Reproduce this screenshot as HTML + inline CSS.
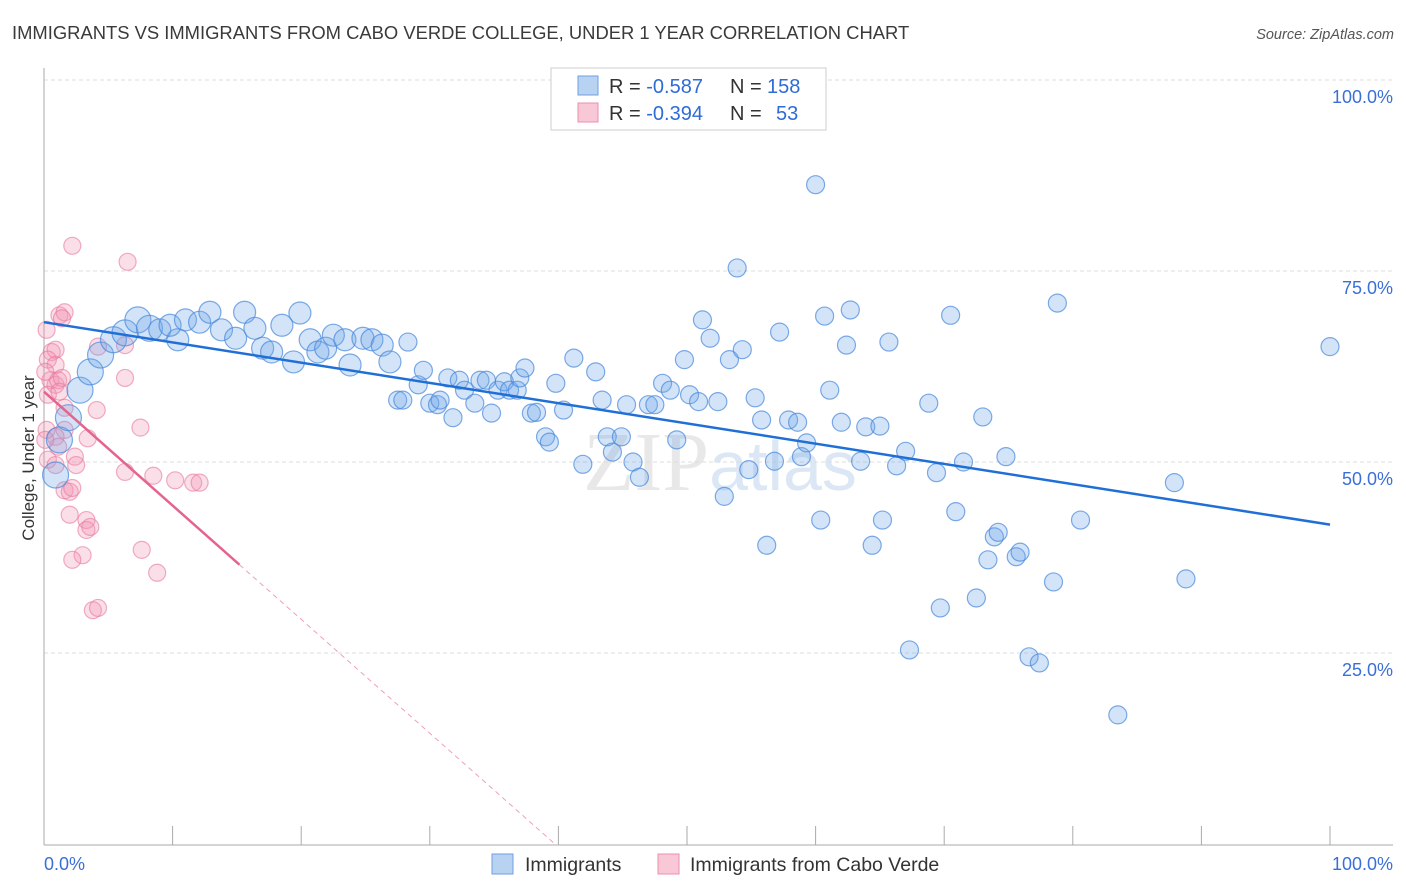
<!DOCTYPE html>
<html><head><meta charset="utf-8"><style>
body{margin:0;background:#fff;font-family:"Liberation Sans",sans-serif;}
svg{display:block}
</style></head><body>
<svg id="chart" width="1406" height="892" xmlns="http://www.w3.org/2000/svg">
<text x="12" y="39" font-size="18.4" fill="#3a3a3a">IMMIGRANTS VS IMMIGRANTS FROM CABO VERDE COLLEGE, UNDER 1 YEAR CORRELATION CHART</text>
<text x="1394" y="39" font-size="14.5" fill="#555" text-anchor="end" font-style="italic">Source: ZipAtlas.com</text>
<text x="720" y="490" font-size="84" fill="#e8e8e8" text-anchor="middle" font-family="Liberation Serif, serif">ZIP<tspan fill="#dbe7f5" font-family="Liberation Sans, sans-serif" font-size="70">atlas</tspan></text>
<g id="grid"></g><g id="axes"></g><g id="pts"></g><g id="lines"></g>
<text transform="translate(34,458) rotate(-90)" font-size="17" fill="#333" text-anchor="middle">College, Under 1 year</text>
<g>
<rect x="551" y="68" width="275" height="62" fill="#fff" stroke="#ccc"/>
<rect x="578" y="76" width="20" height="19" fill="#b8d2f2" stroke="#6f9fe0"/>
<rect x="578" y="103" width="20" height="19" fill="#f9c8d6" stroke="#ec8fad"/>
<text x="609" y="93" font-size="20" fill="#333">R = <tspan fill="#2f6bd6">-0.587</tspan><tspan x="730">N = </tspan><tspan fill="#2f6bd6" x="767">158</tspan></text>
<text x="609" y="120" font-size="20" fill="#333">R = <tspan fill="#2f6bd6">-0.394</tspan><tspan x="730">N = </tspan><tspan fill="#2f6bd6" x="776">53</tspan></text>
</g>
<g>
<rect x="492" y="854" width="21" height="20" fill="#b8d2f2" stroke="#6f9fe0"/>
<text x="525" y="871" font-size="19.5" fill="#333">Immigrants</text>
<rect x="658" y="854" width="21" height="20" fill="#f9c8d6" stroke="#ec8fad"/>
<text x="690" y="871" font-size="19.5" fill="#333">Immigrants from Cabo Verde</text>
</g>
</svg>
<script>
const blueX=[0.9,1.2,1.9,2.8,3.6,4.4,5.4,6.3,7.3,8.2,9.0,10.4,9.8,11.0,12.1,12.9,13.8,14.9,15.6,16.4,17.0,17.7,18.5,19.4,19.9,20.7,21.3,21.9,22.5,23.4,23.8,24.8,25.5,26.3,26.9,27.5,27.9,28.3,29.1,29.5,30.0,30.6,30.8,31.4,31.8,32.3,32.7,33.5,33.9,34.4,34.8,35.3,35.8,36.2,36.8,37.0,37.4,37.9,38.3,39.0,39.3,39.8,40.4,41.2,41.9,42.9,43.4,43.8,44.2,44.9,45.3,45.8,46.3,47.0,47.5,48.1,48.7,49.2,49.8,50.2,50.9,51.2,51.8,52.4,52.9,53.3,53.9,54.3,54.8,55.3,55.8,56.2,56.8,57.2,57.9,58.6,58.9,59.3,60.0,60.4,60.7,61.1,62.0,62.4,62.7,63.5,63.9,64.4,65.0,65.2,65.7,66.3,67.0,67.3,68.8,69.4,69.7,70.5,70.9,71.5,72.5,73.0,73.4,73.9,74.2,74.8,75.6,75.9,76.6,77.4,78.5,78.8,80.6,83.5,87.9,88.8,100];
const blueY=[48.3,52.9,55.8,59.4,61.8,64.0,66.0,66.9,68.6,67.5,67.3,66.0,67.9,68.6,68.3,69.6,67.3,66.2,69.6,67.5,64.9,64.4,67.9,63.1,69.5,66.0,64.4,64.9,66.6,66.0,62.7,66.2,66.0,65.3,63.1,58.1,58.1,65.7,60.1,62.0,57.7,57.5,58.1,61.0,55.8,60.7,59.4,57.7,60.7,60.7,56.4,59.4,60.5,59.4,59.4,61.0,62.3,56.4,56.5,53.3,52.6,60.3,56.8,63.6,49.7,61.8,58.1,53.3,51.3,53.3,57.5,50.0,48.0,57.5,57.5,60.3,59.4,52.9,63.4,58.8,57.9,68.6,66.2,57.9,45.5,63.4,75.4,64.7,49.0,58.4,55.5,39.1,50.1,67.0,55.5,55.2,50.7,52.5,86.3,42.4,69.1,59.4,55.2,65.3,69.9,50.1,54.6,39.1,54.7,42.4,65.7,49.5,51.4,25.4,57.7,48.6,30.9,69.2,43.5,50.0,32.2,55.9,37.2,40.2,40.8,50.7,37.6,38.2,24.5,23.7,34.3,70.8,42.4,16.9,47.3,34.7,65.1];
const pinkX=[2.2,6.5,0.2,0.6,0.9,1.2,1.6,1.4,0.3,0.9,0.5,0.9,1.1,1.4,0.1,0.3,1.2,1.6,4.1,6.3,4.2,6.3,3.4,1.6,0.2,0.9,1.1,2.4,2.5,1.6,2.0,2.2,6.3,8.5,10.2,11.6,12.1,7.5,2.0,3.3,3.3,3.6,7.6,3.0,2.2,8.8,3.8,4.2,0.1,0.3,0.9];
const pinkY=[78.3,76.2,67.3,64.4,64.7,69.2,69.6,68.8,63.4,62.7,60.7,60.1,60.7,61.0,61.8,58.8,59.2,57.1,56.8,61.0,65.1,65.3,53.1,54.2,54.2,53.3,52.0,50.7,49.6,46.3,46.1,46.6,48.7,48.2,47.6,47.3,47.3,54.5,43.1,42.4,41.1,41.5,38.5,37.8,37.2,35.5,30.6,30.9,52.9,50.3,49.6];
const blueTrend=[68.3,41.8]; // y at x=0 and x=100
const pinkTrend=[59.2,-1.49]; // intercept, slope
const pinkSolidEnd=15.2;
const yTicks=[100,75,50,25];
const yTickLabels=["100.0%","75.0%","50.0%","25.0%"];
const xTickLabels=["0.0%","100.0%"];

const NS="http://www.w3.org/2000/svg";
const X=v=>44+v*12.86, Y=v=>844-v*7.64;
function mk(tag,attrs,parent){const e=document.createElementNS(NS,tag);for(const k in attrs)e.setAttribute(k,attrs[k]);parent.appendChild(e);return e;}
const grid=document.getElementById('grid'),axes=document.getElementById('axes'),pts=document.getElementById('pts'),lines=document.getElementById('lines');
yTicks.forEach((t,i)=>{
 const l=mk('line',{x1:44,x2:1393,y1:Y(t),y2:Y(t),stroke:'#ddd','stroke-dasharray':'4 3'},grid);
 
 
 const tx=mk('text',{x:1393,y:Y(t)+23,'font-size':18,fill:'#3a6fd8','text-anchor':'end'},axes);
 tx.textContent=yTickLabels[i];
 
 
});
const ax=mk('line',{x1:44,x2:44,y1:68,y2:845,stroke:'#aaa'},axes);


const bx=mk('line',{x1:44,x2:1393,y1:845,y2:845,stroke:'#aaa'},axes);


for(let i=1;i<=10;i++){const t=mk('line',{x1:X(i*10),x2:X(i*10),y1:826,y2:845,stroke:'#aaa'},axes);
 
 }
const xl0=mk('text',{x:44,y:870,'font-size':18,fill:'#3a6fd8'},axes);xl0.textContent=xTickLabels[0];


const xl1=mk('text',{x:1393,y:870,'font-size':18,fill:'#3a6fd8','text-anchor':'end'},axes);xl1.textContent=xTickLabels[1];


pinkX.forEach((v,i)=>{const c=mk('circle',{cx:X(v),cy:Y(pinkY[i]),r:8.5,fill:'rgba(243,150,178,0.3)',stroke:'rgba(232,120,155,0.6)','stroke-width':1.2},pts);
 
 });
blueX.forEach((v,i)=>{const r=i<10?13:(i<35?11:9);const c=mk('circle',{cx:X(v),cy:Y(blueY[i]),r:r,fill:'rgba(110,165,232,0.3)',stroke:'rgba(70,135,220,0.7)','stroke-width':1.2},pts);
 
 });
const bl=mk('line',{x1:X(0),y1:Y(blueTrend[0]),x2:X(100),y2:Y(blueTrend[1]),stroke:'#1f6fd6','stroke-width':2.5},lines);


const pl=mk('line',{x1:X(0),y1:Y(pinkTrend[0]),x2:X(pinkSolidEnd),y2:Y(pinkTrend[0]+pinkTrend[1]*pinkSolidEnd),stroke:'#e5648e','stroke-width':2.5},lines);


const zx=-pinkTrend[0]/pinkTrend[1];
const pd=mk('line',{x1:X(pinkSolidEnd),y1:Y(pinkTrend[0]+pinkTrend[1]*pinkSolidEnd),x2:X(zx),y2:Y(0),stroke:'#eea0b8','stroke-width':1,'stroke-dasharray':'5 4'},lines);


</script>
</body></html>
